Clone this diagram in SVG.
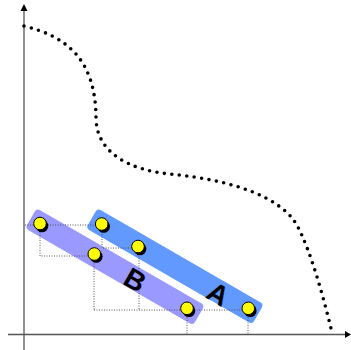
<svg xmlns="http://www.w3.org/2000/svg" width="351" height="350" viewBox="0 0 351 350">
  <defs>
    <style>
      .axis { stroke: #555; stroke-width: 1.3; fill: none; }
      .curve { stroke: #000; stroke-width: 3.6; fill: none; stroke-linecap: round; stroke-dasharray: 0 7.5; }
      .guide { stroke: #555; stroke-width: 1; fill: none; stroke-dasharray: 1 1.5; }
      .shadow { fill: #000; }
      .dot { fill: #ffff00; stroke: #000; stroke-width: 1; }
      .lbl { font-family: "Liberation Sans", Arial, sans-serif; font-weight: bold; font-size: 28px; fill: #000; }
    </style>
  </defs>
  <rect width="351" height="350" fill="#fff"/>

  <g id="axes">
    <line class="axis" x1="24" y1="350" x2="24" y2="9"/>
    <polygon points="24,4 20.5,11 27.5,11" fill="#000"/>
    <line class="axis" x1="8" y1="334.5" x2="346" y2="334.5"/>
    <polygon points="351,334.5 345,331 345,338" fill="#000"/>
  </g>

  <g id="curve">
    <path class="curve" d="M24,26 C65,36 96,58 96,119 C97,152 128,170 170,174 C210,178 265,188 291,216.7 C305,232 322,290 332,332.7"/>
  </g>

  <g id="barB">
    <rect x="-10.5" y="-11.5" width="194" height="23" rx="4" fill="#9999ff" transform="translate(40,223.5) rotate(30)"/>
  </g>
  <g id="barA">
    <rect x="-11.5" y="-11.5" width="192" height="23" rx="4" fill="#6199ff" transform="translate(101.7,224) rotate(30)"/>
  </g>

  <g id="connectors">
    <path class="guide" d="M25,225 H102 M40,225 V256 H94 M102,224 V248 H139 M94,256 V310 M139,248 V310 M94,310 H248 M187,310 V334 M248,310 V334"/>
  </g>

  <g id="labels">
    <text class="lbl" x="135" y="280" text-anchor="middle" dominant-baseline="central" transform="rotate(30 135 280)">B</text>
    <text class="lbl" x="218" y="294" text-anchor="middle" dominant-baseline="central" transform="rotate(30 218 294)">A</text>
  </g>

  <g id="pointB1"><circle class="shadow" cx="42" cy="226" r="6.3"/><circle class="dot" cx="40" cy="223.5" r="6.3"/></g>
  <g id="pointB2"><circle class="shadow" cx="96.3" cy="256.5" r="6.3"/><circle class="dot" cx="94.3" cy="254" r="6.3"/></g>
  <g id="pointB3"><circle class="shadow" cx="189" cy="310.8" r="6.3"/><circle class="dot" cx="187" cy="308.3" r="6.3"/></g>
  <g id="pointA1"><circle class="shadow" cx="103.7" cy="226.5" r="6.3"/><circle class="dot" cx="101.7" cy="224" r="6.3"/></g>
  <g id="pointA2"><circle class="shadow" cx="140" cy="249" r="6.3"/><circle class="dot" cx="138" cy="246.5" r="6.3"/></g>
  <g id="pointA3"><circle class="shadow" cx="250.3" cy="310.8" r="6.3"/><circle class="dot" cx="248.3" cy="308.3" r="6.3"/></g>
</svg>
